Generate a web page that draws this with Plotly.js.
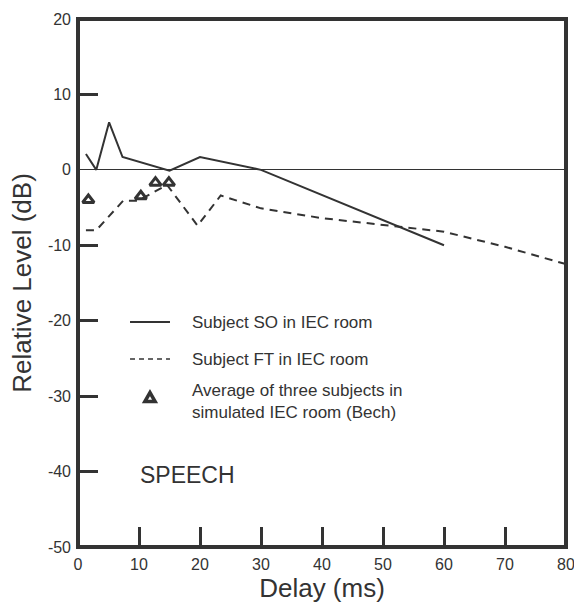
<!DOCTYPE html>
<html>
<head>
<meta charset="utf-8">
<script src="https://cdn.plot.ly/plotly-3.0.1.min.js"></script>
<style>
  html, body { margin: 0; padding: 0; background: #fff; }
  #chart { width: 574px; height: 605px; }
</style>
</head>
<body>
<div id="chart"></div>
<script>
// Subject SO in IEC room (solid line)
const soDelay = [1.3, 3.0, 5.1, 7.3, 15.0, 20.0, 30.0, 60.0];
const soLevel = [2.1, 0.0, 6.3, 1.7, -0.1, 1.7, 0.0, -10.0];

// Subject FT in IEC room (dashed line)
const ftDelay = [1.3, 3.0, 7.4, 9.8, 14.6, 19.6, 23.4, 30.0, 40.0, 50.0, 60.0, 70.0, 80.0];
const ftLevel = [-8.0, -8.0, -4.1, -4.1, -2.0, -7.4, -3.4, -5.1, -6.4, -7.3, -8.2, -10.2, -12.5];

// Average of three subjects in simulated IEC room (Bech)
const bechDelay = [1.7, 10.3, 12.7, 14.9];
const bechLevel = [-4.0, -3.5, -1.7, -1.7];

// Axis ticks and labels
const xTicks = [0, 10, 20, 30, 40, 50, 60, 70, 80];
const xTickMarks = [10, 20, 30, 40, 50, 60, 70];
const yTicks = [-50, -40, -30, -20, -10, 0, 10, 20];
const yTickMarks = [-40, -30, -20, -10, 10];

const legendTexts = [
  "Subject SO in IEC room",
  "Subject FT in IEC room",
  "Average of three subjects in<br>simulated IEC room (Bech)"
];
const panelLabel = "SPEECH";

const ink = "#333333";
const font = "Liberation Sans, Arial, Helvetica, sans-serif";

const traces = [
  {
    x: soDelay, y: soLevel, type: "scatter", mode: "lines",
    line: { color: ink, width: 2 }, showlegend: false, hoverinfo: "skip"
  },
  {
    x: ftDelay, y: ftLevel, type: "scatter", mode: "lines",
    line: { color: ink, width: 2, dash: "8px,6px" }, showlegend: false, hoverinfo: "skip"
  },
  {
    // drawn on the tick-mark overlay axes (same ranges as the main axes)
    x: bechDelay, y: bechLevel, xaxis: "x2", yaxis: "y2", type: "scatter", mode: "markers",
    marker: { symbol: "triangle-up-open", size: 10, color: ink, line: { color: ink, width: 3 } },
    showlegend: false, hoverinfo: "skip", cliponaxis: false
  }
];

// legend key samples and plot frame in paper coordinates
const keyX0 = 0.1066, keyX1 = 0.1885, textX = 0.2295;
const rowY = [0.426, 0.356, 0.276];
const triX = 0.1475, triY = 0.284, triW = 0.0105, triH = 0.0085;

const shapes = [
  { type: "rect", xref: "paper", yref: "paper", x0: 0, x1: 1, y0: 0, y1: 1,
    line: { color: ink, width: 4 }, fillcolor: "rgba(0,0,0,0)", layer: "above" },
  { type: "line", xref: "paper", yref: "paper", x0: keyX0, x1: keyX1, y0: rowY[0], y1: rowY[0],
    line: { color: ink, width: 2 } },
  { type: "line", xref: "paper", yref: "paper", x0: keyX0, x1: keyX1, y0: rowY[1], y1: rowY[1],
    line: { color: ink, width: 1.5, dash: "5px,4px" } },
  { type: "path", xref: "paper", yref: "paper",
    path: `M ${triX - triW} ${triY - triH} L ${triX + triW} ${triY - triH} L ${triX} ${triY + triH} Z`,
    line: { color: ink, width: 3.5 }, fillcolor: "rgba(0,0,0,0)" }
];

const annotations = [
  { text: legendTexts[0], x: textX, y: rowY[0] },
  { text: legendTexts[1], x: textX, y: rowY[1] },
  { text: legendTexts[2], x: textX, y: rowY[2] }
].map(a => Object.assign(a, {
  xref: "paper", yref: "paper", xanchor: "left", yanchor: "middle", align: "left", showarrow: false,
  font: { family: font, size: 17, color: ink }
}));

annotations.push({
  text: panelLabel, xref: "paper", yref: "paper", x: 0.123, y: 0.136,
  xanchor: "left", yanchor: "middle", showarrow: false,
  font: { family: font, size: 23, color: ink }
});

const layout = {
  width: 574, height: 605,
  margin: { l: 78, r: 8, t: 19, b: 58 },
  paper_bgcolor: "#ffffff", plot_bgcolor: "#ffffff",
  font: { family: font, color: ink, size: 16 },
  showlegend: false,
  xaxis: {
    range: [0, 80], tickvals: xTicks, ticktext: xTicks.map(String),
    ticks: "", showgrid: false, zeroline: false, ticklabeloverflow: "allow",
    ticklabelstandoff: 6, showline: false,
    tickfont: { family: font, size: 16, color: ink },
    title: { text: "Delay (ms)", font: { family: font, size: 26, color: ink }, standoff: 6 }
  },
  yaxis: {
    range: [-50, 20], tickvals: yTicks, ticktext: yTicks.map(String),
    ticks: "", showgrid: false, ticklabeloverflow: "allow",
    ticklabelstandoff: 6,
    zeroline: true, zerolinewidth: 1, zerolinecolor: ink,
    showline: false,
    tickfont: { family: font, size: 16, color: ink },
    title: { text: "Relative Level (dB)", font: { family: font, size: 26, color: ink }, standoff: 8 }
  },
  xaxis2: {
    overlaying: "x", anchor: "y2", side: "bottom", range: [0, 80], tickvals: xTickMarks,
    ticks: "inside", ticklen: 20, tickwidth: 3, tickcolor: ink,
    showticklabels: false, showgrid: false, zeroline: false, showline: false
  },
  yaxis2: {
    overlaying: "y", anchor: "x2", side: "left", range: [-50, 20], tickvals: yTickMarks,
    ticks: "inside", ticklen: 20, tickwidth: 3, tickcolor: ink,
    showticklabels: false, showgrid: false, zeroline: false, showline: false
  },
  shapes: shapes,
  annotations: annotations
};

Plotly.newPlot("chart", traces, layout, { staticPlot: true, displayModeBar: false });
</script>
</body>
</html>
